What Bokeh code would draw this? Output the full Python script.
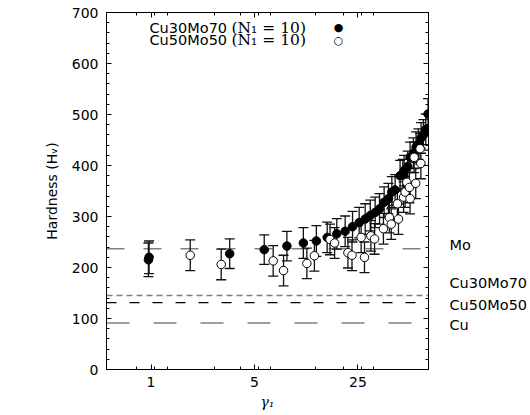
from bokeh.plotting import figure
from bokeh.layouts import row
from bokeh.models import (Range1d, FixedTicker, LogAxis, LinearAxis, Span, Label,
                          Whisker, TeeHead, ColumnDataSource, CustomJSTickFormatter,
                          PrintfTickFormatter)
from bokeh.embed import file_html
from bokeh.resources import INLINE

# ---- data -------------------------------------------------------------
cu30_x = [0.96, 0.97, 3.40, 5.82, 8.28, 10.7, 13.1, 15.5, 18.0, 20.5, 23.0, 25.5,
          28.0, 30.3, 32.7, 35.0, 37.6, 40.2, 42.4, 44.6, 48.2, 50.3, 51.3, 54.3,
          56.3, 59.3, 61.8, 64.1, 66.8, 69.3, 71.9, 74.5]
cu30_y = [215, 220, 227, 235, 242, 248, 252, 259, 266, 271, 280, 288,
          295, 302, 308, 315, 328, 335, 348, 352, 380, 382, 390, 398,
          416, 424, 436, 442, 454, 460, 471, 501]
cu30_err = [33, 32, 29, 29, 29, 30, 30, 30, 30, 30, 30, 30,
            30, 30, 30, 30, 30, 30, 30, 30, 30, 30, 30, 30,
            30, 30, 30, 30, 30, 30, 30, 30]

cu50_x = [1.84, 2.98, 6.69, 7.86, 11.3, 12.7, 16.2, 17.4, 21.4, 22.8, 26.3, 27.7,
          30.6, 32.4, 37.2, 40.8, 42.0, 46.2, 47.0, 50.9, 52.1, 53.5, 55.7, 56.3,
          60.0, 61.5, 65.8, 66.6]
cu50_y = [224, 206, 213, 194, 208, 223, 255, 248, 229, 224, 259, 220,
          262, 256, 276, 298, 285, 325, 295, 338, 348, 367, 357, 335,
          416, 365, 433, 404]
cu50_err = [30, 30, 30, 30, 30, 30, 30, 30, 30, 30, 30, 30,
            30, 30, 30, 30, 30, 30, 30, 30, 30, 30, 30, 30,
            30, 30, 30, 30]

ref_names = ["Mo", "Cu30Mo70", "Cu50Mo50", "Cu"]
ref_values = [237, 145, 131, 91]

x_ticks = [1, 5, 25]
x_minor = [0.8, 1.06, 1.3, 2.7, 4, 5.35, 6.4, 13, 20, 26.5, 32]
y_ticks = [0, 100, 200, 300, 400, 500, 600, 700]

legend_texts = ["Cu30Mo70", "Cu50Mo50"]
legend_math = ["(N\u2081 = 10)", "(N\u2081 = 10)"]

# ---- main figure ------------------------------------------------------
X0, X1 = 0.5, 75
yr = Range1d(0, 700)
p = figure(width=430, height=415, x_axis_type="log",
           x_range=Range1d(X0, X1), y_range=yr,
           output_backend="svg", toolbar_location=None,
           min_border_left=106, min_border_right=2,
           min_border_top=12, min_border_bottom=46)
p.grid.visible = False
p.outline_line_color = "black"
p.background_fill_color = "white"
p.border_fill_color = "white"

FONT = "DejaVu Sans"
y_minor = [v for v in range(0, 701, 20) if v % 100]


def style_axis(ax, show_labels=True):
    ax.major_tick_in = 5
    ax.major_tick_out = 0
    ax.minor_tick_in = 3
    ax.minor_tick_out = 0
    ax.axis_line_color = "black"
    ax.major_tick_line_color = "black"
    ax.minor_tick_line_color = "black"
    ax.major_label_text_font = FONT
    ax.major_label_text_font_size = "14px"
    ax.major_label_text_color = "black"
    ax.axis_label_text_color = "black"
    if not show_labels:
        ax.formatter = CustomJSTickFormatter(code="return ''")
        ax.major_label_standoff = 0


xa = p.xaxis[0]
xa.ticker = FixedTicker(ticks=x_ticks, minor_ticks=x_minor)
xa.formatter = PrintfTickFormatter(format="%d")
style_axis(xa)
xa.major_label_standoff = 7
xa.axis_label = "\u03b3\u2081"
xa.axis_label_text_font = "DejaVu Serif"
xa.axis_label_text_font_style = "italic"
xa.axis_label_text_font_size = "14px"
xa.axis_label_standoff = 4

ya = p.yaxis[0]
ya.ticker = FixedTicker(ticks=y_ticks, minor_ticks=y_minor)
style_axis(ya)
ya.major_label_standoff = 8
ya.axis_label = "Hardness (H\u1d65)"
ya.axis_label_text_font = FONT
ya.axis_label_text_font_style = "normal"
ya.axis_label_text_font_size = "14px"
ya.axis_label_standoff = 9

top = LogAxis(ticker=FixedTicker(ticks=x_ticks, minor_ticks=x_minor))
style_axis(top, show_labels=False)
p.add_layout(top, "above")
right = LinearAxis(ticker=FixedTicker(ticks=y_ticks, minor_ticks=y_minor))
style_axis(right, show_labels=False)
p.add_layout(right, "right")

# ---- side panel for the reference-line names --------------------------
side = figure(width=100, height=415, x_range=Range1d(0, 1), y_range=yr,
              output_backend="svg", toolbar_location=None,
              x_axis_location=None, y_axis_location=None,
              min_border_left=0, min_border_right=0,
              min_border_top=12, min_border_bottom=46)
side.grid.visible = False
side.outline_line_color = None
side.border_fill_color = "white"

ref_styles = [("#808080", "18 19", 1.5), ("#808080", "6 4", 1.5),
              ("black", "10 13", 1.2), ("#808080", "23 24", 1.5)]
label_dy = [4, 13, -2, -2]
for name, val, (col, dash, lw), dy in zip(ref_names, ref_values, ref_styles, label_dy):
    p.add_layout(Span(location=val, dimension="width", line_color=col,
                      line_dash=dash, line_width=lw, level="underlay"))
    side.add_layout(Label(x=0, y=val, x_offset=19, y_offset=dy, text=name,
                          text_baseline="middle", text_font=FONT,
                          text_font_size="14.5px", text_color="black"))

# ---- error bars and points --------------------------------------------
head = dict(size=10, line_color="#111111", line_width=1.3)
for xs, ys, es in [(cu30_x, cu30_y, cu30_err), (cu50_x, cu50_y, cu50_err)]:
    src = ColumnDataSource(dict(x=xs, lo=[y - e for y, e in zip(ys, es)],
                                hi=[y + e for y, e in zip(ys, es)]))
    p.add_layout(Whisker(source=src, base="x", lower="lo", upper="hi",
                         dimension="height", line_color="#111111", line_width=1.3,
                         upper_head=TeeHead(**head), lower_head=TeeHead(**head),
                         level="underlay"))

p.scatter(cu30_x, cu30_y, size=8.5, fill_color="black", line_color="black")
p.scatter(cu50_x, cu50_y, size=8.5, fill_color="white", line_color="black",
          line_width=1)

# ---- legend (text first, marker after) --------------------------------
for i, (t, m, sym) in enumerate(zip(legend_texts, legend_math, ["\u25cf", "\u25cb"])):
    dy = -15 - 12.5 * i
    p.add_layout(Label(x=X0, y=700, x_offset=43, y_offset=dy, text=t,
                       text_baseline="middle", text_font=FONT,
                       text_font_size="14.5px", text_color="black"))
    p.add_layout(Label(x=X0, y=700, x_offset=125, y_offset=dy, text=m,
                       text_baseline="middle", text_font="DejaVu Serif",
                       text_font_size="15.5px", text_color="black"))
    p.add_layout(Label(x=X0, y=700, x_offset=232, y_offset=dy, text=sym,
                       text_baseline="middle", text_align="center",
                       text_font=FONT, text_font_size="11px", text_color="black"))

layout = row(p, side)
open("out.html", "w").write(file_html(layout, INLINE))
